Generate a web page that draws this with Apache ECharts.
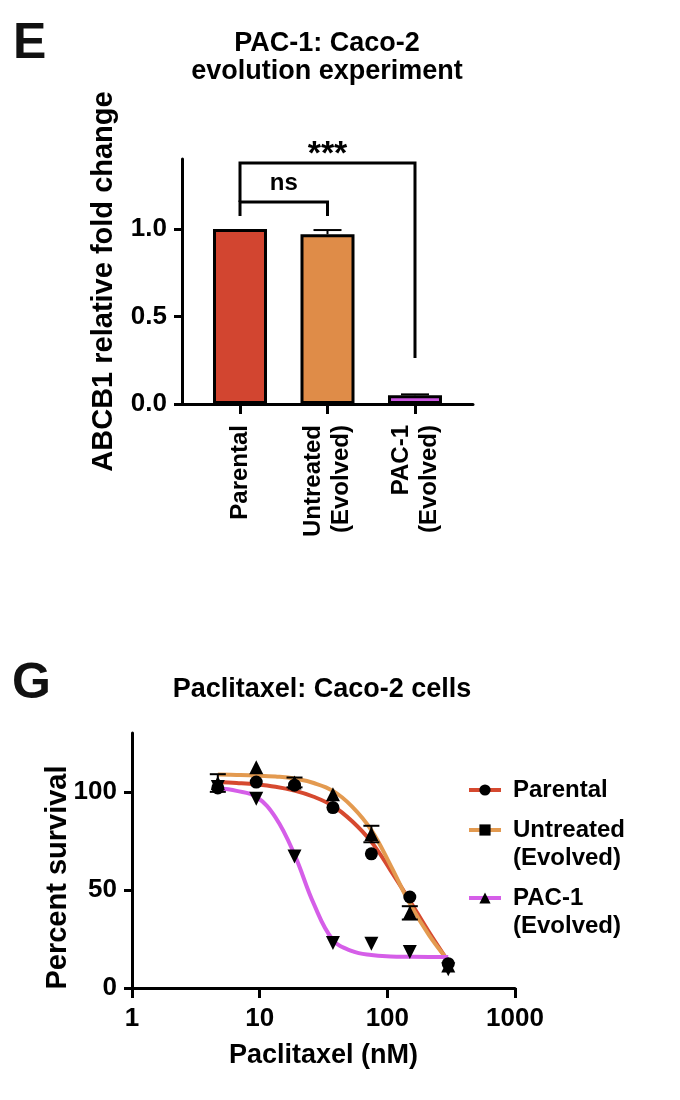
<!DOCTYPE html>
<html>
<head>
<meta charset="utf-8">
<script src="https://cdn.jsdelivr.net/npm/echarts@6/dist/echarts.min.js"></script>
<style>
  html, body { margin: 0; padding: 0; background: #fff; }
  #chart { width: 680px; height: 1100px; }
</style>
</head>
<body>
<div id="chart"></div>
<script>
// ---- Panel E: ABCB1 relative fold change ----
const cats = ['Parental', 'Untreated\n(Evolved)', 'PAC-1\n(Evolved)'];
const foldChange = [1.0, 0.97, 0.05];
const foldErr = [0, 0.024, 0.005];
const foldTicks = [0, 0.5, 1.0];
const bracketPairs = [[0, 1], [0, 2]];
const bracketTop = [1.154, 1.377];
const bracketLegLeft = [1.074, 1.154];
const bracketLegRight = [1.074, 0.263];
const bracketLabels = ['ns', '***'];

// ---- Panel G: Paclitaxel survival ----
const conc = [4.7, 9.4, 18.75, 37.5, 75, 150, 300];
const parental = [102, 105, 103.4, 92, 68.4, 46.4, 12.4];
const untreated = [104.5, 112.5, 104.8, 98.8, 78.5, 38.3, 11.5];
const untreatedErr = [4.5, 0, 2.5, 0, 4.2, 3.4, 0];
const pac1 = [102.5, 96.5, 67, 23, 22.6, 18.4, 9.5];
const fitConc = [4.7, 6.6, 9.4, 13.3, 18.75, 26.5, 37.5, 53, 75, 106, 150, 212, 300];
const parentalFit = [105, 104.5, 103.8, 102.6, 100.6, 97.5, 92.8, 85, 74.5, 60, 44.5, 28.5, 13.5];
const untreatedFit = [108.8, 108.6, 108.3, 107.8, 106.8, 104.5, 100.5, 92.5, 80.5, 62.5, 43, 27, 14];
const pac1Fit = [101.8, 100.5, 97.5, 87, 68, 43, 24.5, 18.8, 16.8, 16.1, 15.9, 15.8, 15.8];
const survivalTicks = [0, 50, 100];
const concTicks = [1, 10, 100, 1000];

const FONT = 'Liberation Sans, Arial, Helvetica, sans-serif';
const barColors = ['#D24530', '#DF8C48', '#CB55E0'];
const lineColors = ['#D6492F', '#E39A50', '#D55EE8'];

const chart = echarts.init(document.getElementById('chart'), null, { renderer: 'canvas' });

const boldText = (size, extra) => Object.assign({ fontFamily: FONT, fontWeight: 'bold', fontSize: size, color: '#000' }, extra || {});

const axisLineStyle = { color: '#000', width: 3 };

function legendFor(i, top) {
  return {
    data: [{ name: cats[i], itemStyle: { color: '#000', borderColor: '#000', borderWidth: 0 } }],
    left: 467, top: top, orient: 'vertical', padding: 0,
    itemWidth: 32, itemHeight: 14, selectedMode: false,
    lineStyle: { width: 4 },
    // two-line names get an empty leading line so the icon sits beside the first line
    formatter: n => (n.indexOf('\n') >= 0 ? ' \n' + n : n),
    textStyle: boldText(24, { lineHeight: 28, padding: [0, 0, 0, 7] })
  };
}

const option = {
  animation: false,
  backgroundColor: '#fff',
  textStyle: { fontFamily: FONT },
  title: [
    { text: 'E', left: 13, top: 19, padding: 0, textStyle: boldText(50, { color: '#111' }) },
    { text: 'PAC-1: Caco-2\nevolution experiment', left: 327, top: 30, padding: 0, textAlign: 'center',
      textStyle: boldText(27, { lineHeight: 28 }) },
    { text: 'G', left: 12, top: 659, padding: 0, textStyle: boldText(50, { color: '#111' }) },
    { text: 'Paclitaxel: Caco-2 cells', left: 322, top: 676, padding: 0, textAlign: 'center',
      textStyle: boldText(27, { lineHeight: 28 }) }
  ],
  legend: [legendFor(0, 776), legendFor(1, 788), legendFor(2, 856)],
  grid: [
    { left: 182, top: 159, width: 291, height: 245 },
    { left: 132, top: 733, width: 383, height: 255 }
  ],
  xAxis: [
    {
      gridIndex: 0, type: 'value', min: -0.663, max: 2.663,
      splitLine: { show: false },
      axisLine: { onZero: false, lineStyle: axisLineStyle },
      axisTick: { customValues: [0, 1, 2], length: 10, lineStyle: { color: '#000', width: 3 } },
      axisLabel: {
        customValues: [0, 1, 2],
        formatter: v => cats[Math.round(v)],
        rotate: 90, margin: 21,
        fontFamily: FONT, fontWeight: 'bold', fontSize: 24, color: '#000', lineHeight: 28
      }
    },
    {
      gridIndex: 1, type: 'log', logBase: 10, min: 1, max: 1000,
      name: 'Paclitaxel (nM)', nameLocation: 'middle', nameGap: 54, nameMoveOverlap: false,
      nameTextStyle: boldText(27),
      splitLine: { show: false },
      axisLine: { onZero: false, lineStyle: axisLineStyle },
      axisTick: { customValues: concTicks, length: 10, lineStyle: { color: '#000', width: 3 } },
      axisLabel: { customValues: concTicks, formatter: v => String(Math.round(v)), margin: 18,
        fontFamily: FONT, fontWeight: 'bold', fontSize: 26, color: '#000' },
      minorTick: { show: false }
    }
  ],
  yAxis: [
    {
      gridIndex: 0, type: 'value', min: 0, max: 1.4, interval: 0.5,
      name: 'ABCB1 relative fold change', nameLocation: 'middle', nameGap: 64, nameMoveOverlap: false,
      nameTextStyle: boldText(29),
      splitLine: { show: false },
      axisLine: { show: true, onZero: false, lineStyle: axisLineStyle },
      axisTick: { show: true, customValues: foldTicks, length: 8, lineStyle: { color: '#000', width: 3 } },
      axisLabel: { customValues: foldTicks, formatter: v => Number(v).toFixed(1), margin: 15,
        fontFamily: FONT, fontWeight: 'bold', fontSize: 26, color: '#000' }
    },
    {
      gridIndex: 1, type: 'value', min: 0, max: 130, interval: 50,
      name: 'Percent survival', nameLocation: 'middle', nameGap: 60, nameMoveOverlap: false,
      nameTextStyle: boldText(29, { padding: [0, 34, 0, 0] }),
      splitLine: { show: false },
      axisLine: { show: true, onZero: false, lineStyle: axisLineStyle },
      axisTick: { show: true, customValues: survivalTicks, length: 8, lineStyle: { color: '#000', width: 3 } },
      axisLabel: { customValues: survivalTicks, margin: 15,
        fontFamily: FONT, fontWeight: 'bold', fontSize: 26, color: '#000' }
    }
  ],
  series: [
    {
      name: 'fold', type: 'bar', xAxisIndex: 0, yAxisIndex: 0, barWidth: 54,
      data: foldChange.map((v, i) => ({ value: [i, v], itemStyle: { color: barColors[i] } })),
      itemStyle: { borderColor: '#000', borderWidth: 3 },
      z: 2
    },
    {
      name: 'foldErr', type: 'custom', xAxisIndex: 0, yAxisIndex: 0, z: 3,
      data: foldChange.map((v, i) => [i, v, foldErr[i]]).filter(d => d[2] > 0),
      renderItem: (params, api) => {
        const x = api.value(0), y = api.value(1), e = api.value(2);
        const p0 = api.coord([x, y]), p1 = api.coord([x, y + e]);
        return { type: 'group', children: [
          { type: 'line', shape: { x1: p0[0], y1: p0[1], x2: p1[0], y2: p1[1] }, style: { stroke: '#000', lineWidth: 2 } },
          { type: 'line', shape: { x1: p1[0] - 14, y1: p1[1], x2: p1[0] + 14, y2: p1[1] }, style: { stroke: '#000', lineWidth: 2 } }
        ] };
      }
    },
    {
      name: 'brackets', type: 'custom', xAxisIndex: 0, yAxisIndex: 0, z: 4,
      data: bracketPairs.map((p, i) => [p[0], p[1], bracketTop[i], bracketLegLeft[i], bracketLegRight[i]]),
      renderItem: (params, api) => {
        const x1 = api.value(0), x2 = api.value(1), yt = api.value(2), yl = api.value(3), yr = api.value(4);
        const a = api.coord([x1, yl]), b = api.coord([x1, yt]), c = api.coord([x2, yt]), d = api.coord([x2, yr]);
        const label = bracketLabels[params.dataIndex];
        const isStar = label.indexOf('*') >= 0;
        return { type: 'group', children: [
          { type: 'polyline', shape: { points: [a, b, c, d] }, style: { stroke: '#000', lineWidth: 3, fill: 'none' } },
          { type: 'text', x: (b[0] + c[0]) / 2, y: b[1] + (isStar ? 9 : -7),
            style: { text: label, fontFamily: FONT, fontWeight: 'bold', fontSize: isStar ? 34 : 24,
              align: 'center', verticalAlign: 'bottom', fill: '#000' } }
        ] };
      }
    },
    // fitted curves (also legend entries)
    {
      name: cats[0], type: 'line', xAxisIndex: 1, yAxisIndex: 1, smooth: 0.4, showSymbol: false,
      symbol: 'circle', data: fitConc.map((c, i) => [c, parentalFit[i]]),
      lineStyle: { color: lineColors[0], width: 4 }, itemStyle: { color: lineColors[0] }, z: 2
    },
    {
      name: cats[1], type: 'line', xAxisIndex: 1, yAxisIndex: 1, smooth: 0.4, showSymbol: false,
      symbol: 'rect', data: fitConc.map((c, i) => [c, untreatedFit[i]]),
      lineStyle: { color: lineColors[1], width: 4 }, itemStyle: { color: lineColors[1] }, z: 2
    },
    {
      name: cats[2], type: 'line', xAxisIndex: 1, yAxisIndex: 1, smooth: 0.4, showSymbol: false,
      symbol: 'triangle', data: fitConc.map((c, i) => [c, pac1Fit[i]]),
      lineStyle: { color: lineColors[2], width: 4 }, itemStyle: { color: lineColors[2] }, z: 2
    },
    // measured points
    {
      name: 'Parental points', type: 'scatter', xAxisIndex: 1, yAxisIndex: 1, symbol: 'circle', symbolSize: 13,
      data: conc.map((c, i) => [c, parental[i]]), itemStyle: { color: '#000', opacity: 1 }, z: 5
    },
    {
      name: 'Untreated points', type: 'scatter', xAxisIndex: 1, yAxisIndex: 1, symbol: 'triangle', symbolSize: 14,
      data: conc.map((c, i) => [c, untreated[i]]), itemStyle: { color: '#000', opacity: 1 }, z: 5
    },
    {
      name: 'PAC-1 points', type: 'scatter', xAxisIndex: 1, yAxisIndex: 1, symbol: 'triangle', symbolSize: 14,
      symbolRotate: 180,
      data: conc.map((c, i) => [c, pac1[i]]), itemStyle: { color: '#000', opacity: 1 }, z: 5
    },
    {
      name: 'Untreated error', type: 'custom', xAxisIndex: 1, yAxisIndex: 1, z: 6,
      data: conc.map((c, i) => [c, untreated[i], untreatedErr[i]]).filter(d => d[2] > 0),
      renderItem: (params, api) => {
        const x = api.value(0), y = api.value(1), e = api.value(2);
        const lo = api.coord([x, y - e]), hi = api.coord([x, y + e]);
        const st = { stroke: '#000', lineWidth: 2 };
        return { type: 'group', children: [
          { type: 'line', shape: { x1: lo[0], y1: lo[1], x2: hi[0], y2: hi[1] }, style: st },
          { type: 'line', shape: { x1: hi[0] - 8, y1: hi[1], x2: hi[0] + 8, y2: hi[1] }, style: st },
          { type: 'line', shape: { x1: lo[0] - 8, y1: lo[1], x2: lo[0] + 8, y2: lo[1] }, style: st }
        ] };
      }
    }
  ]
};

chart.setOption(option);
</script>
</body>
</html>
